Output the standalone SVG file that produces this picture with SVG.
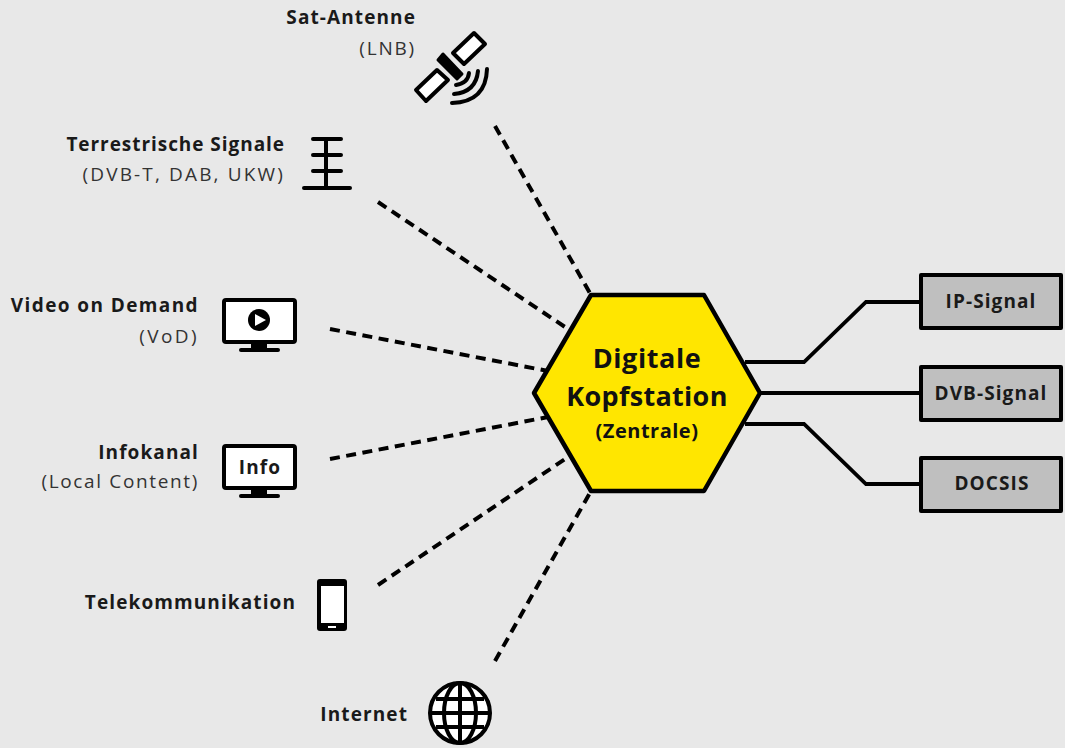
<svg xmlns="http://www.w3.org/2000/svg" width="1065" height="748" viewBox="0 0 1065 748">
<style>
text{font-family:"Open Sans","Noto Sans","Liberation Sans",sans-serif;fill:#1a1a1a}
.b{font-weight:700;font-size:19px;letter-spacing:1.1px}
.r{font-size:19px;letter-spacing:1.8px;fill:#333}
.e{text-anchor:end}
.m{text-anchor:middle}
.h{font-weight:700}
.k{fill:none;stroke:#000;stroke-width:3.8}
.d{fill:none;stroke:#000;stroke-width:4;stroke-dasharray:10 6.5}
.s{fill:#bfbfbf;stroke:#000;stroke-width:4;stroke-linejoin:round}
.w{fill:#fff;stroke:#000;stroke-width:4;stroke-linejoin:round}
.l{fill:none;stroke:#000;stroke-width:4;stroke-linecap:round}
.g{fill:none;stroke:#000;stroke-width:4}
</style>
<rect width="1065" height="748" fill="#e8e8e8"/>
<g id="connectors">
<path class="d" d="M495 126L591 295"/>
<path class="d" d="M378 202L568 329"/>
<path class="d" d="M330 329L548 371"/>
<path class="d" d="M330 459L548 417"/>
<path class="d" d="M378 585L568 457"/>
<path class="d" d="M495 661L591 491"/>
<path class="k" d="M745 362H804L866 302H921"/>
<path class="k" d="M760 393H921"/>
<path class="k" d="M745 424H804L866 484H921"/>
</g>
<g id="hub">
<path d="M534 393L591 295H704L760 393L704 491H591Z" fill="#ffe600" stroke="#000" stroke-width="4.5" stroke-linejoin="round"/>
<text class="m h" x="647" y="368" font-size="27" letter-spacing=".6" style="fill:#111">Digitale</text>
<text class="m h" x="647" y="406" font-size="27" letter-spacing=".3" style="fill:#111">Kopfstation</text>
<text class="m h" x="647" y="438" font-size="20" letter-spacing=".5" style="fill:#111">(Zentrale)</text>
</g>
<g id="ip-signal"><rect class="s" x="921" y="275" width="140" height="53"/><text class="b m" x="991" y="308">IP-Signal</text></g>
<g id="dvb-signal"><rect class="s" x="921" y="367" width="140" height="53"/><text class="b m" x="991" y="400">DVB-Signal</text></g>
<g id="docsis"><rect class="s" x="921" y="458" width="140" height="53"/><text class="b m" x="992" y="490">DOCSIS</text></g>
<g id="sat">
<text class="b e" x="416" y="24">Sat-Antenne</text>
<text class="r e" x="416" y="55">(LNB)</text>
<path class="w" d="M474 33L485 44L464 64L453 53Z"/>
<path class="w" d="M437 70L448 80L426 101L416 90Z"/>
<path d="M438 60L443 54L462 74L457 79Z" stroke="#000" stroke-width="3" stroke-linejoin="round"/>
<path class="l" d="M456 85Q468 83 469 73M454 94Q476 92 478 71M452 103Q486 102 487 69"/>
</g>
<g id="terrestrial">
<text class="b e" x="285" y="151" style="letter-spacing:.95px">Terrestrische Signale</text>
<text class="r e" x="285" y="181" style="letter-spacing:2.15px">(DVB-T, DAB, UKW)</text>
<path class="l" d="M313 139H341M313 155H341M313 171H341M304 188H350M326 139V188"/>
</g>
<g id="vod">
<text class="b e" x="199" y="312" style="letter-spacing:1.4px">Video on Demand</text>
<text class="r e" x="199" y="343" style="letter-spacing:2.4px">(VoD)</text>
<rect class="w" x="224" y="300" width="71" height="42" rx="2"/>
<path d="M251 342H267V349H251Z"/><path class="l" d="M241 350H278"/>
<circle cx="259" cy="320" r="11"/><path d="M255 314L266 320L255 326Z" fill="#fff"/>
</g>
<g id="info">
<text class="b e" x="199" y="459">Infokanal</text>
<text class="r e" x="199" y="488" style="letter-spacing:1.65px">(Local Content)</text>
<rect class="w" x="224" y="446" width="71" height="42" rx="2"/>
<path d="M251 488H267V495H251Z"/><path class="l" d="M241 496H278"/>
<text class="b m" x="260" y="474">Info</text>
</g>
<g id="tele">
<text class="b e" x="296" y="609">Telekommunikation</text>
<rect x="317" y="579" width="30" height="52" rx="3"/>
<rect x="321" y="586" width="23" height="37" fill="#fff"/>
<rect x="328" y="626" width="8" height="2" fill="#fff"/>
</g>
<g id="internet">
<text class="b e" x="408" y="721">Internet</text>
<circle cx="460" cy="713" r="30" fill="#fff" stroke="#000" stroke-width="4"/>
<ellipse class="g" cx="460" cy="713" rx="16" ry="30"/>
<path class="g" d="M460 683V743M430 713H490M436 699H484M436 727H484"/>
</g>
</svg>
